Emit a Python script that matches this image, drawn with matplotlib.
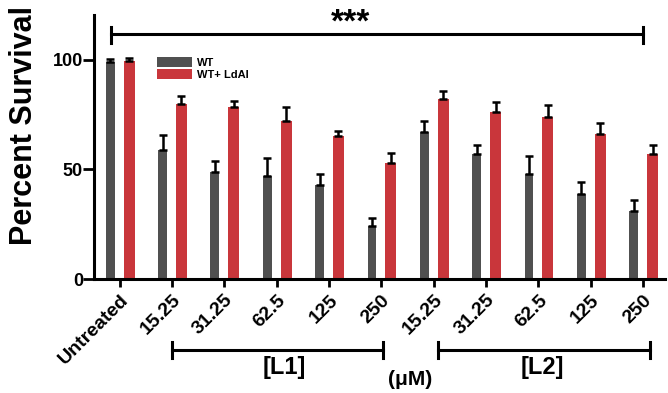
import numpy as np
import matplotlib
matplotlib.use("Agg")
import matplotlib.pyplot as plt
import matplotlib.transforms as mtransforms

plt.rcParams['font.family'] = ['Liberation Sans', 'DejaVu Sans']
plt.rcParams['font.weight'] = 'bold'

# data
categories = ['Untreated', '15.25', '31.25', '62.5', '125', '250',
              '15.25', '31.25', '62.5', '125', '250']
wt_mean = [99, 59, 49, 47, 43, 24, 67, 57, 48, 39, 31]
wt_err = [1.5, 6.5, 5, 8, 5, 4, 5, 4, 8, 5.5, 5]
ldai_mean = [99.5, 80, 78.7, 72, 65.3, 53, 82.3, 76.3, 74, 66.3, 57]
ldai_err = [1.2, 3.5, 2.7, 6.5, 2.3, 4.6, 3.7, 4.7, 5.6, 4.7, 4]

grey = '#505050'
red = '#c9363b'

fig = plt.figure(figsize=(6.68, 3.93), dpi=100)
ax = fig.add_axes([0.1407, 0.29, 0.855, 0.672])

x = np.arange(len(categories))
off = 0.18
ekw = dict(ecolor='black', elinewidth=1.8, capsize=3, capthick=1.8)
ax.bar(x - off, wt_mean, 0.17, color=grey, label='WT',
       yerr=[np.zeros(len(x)), wt_err], error_kw=ekw)
ax.bar(x + off, ldai_mean, 0.21, color=red, label='WT+ LdAI',
       yerr=[np.zeros(len(x)), ldai_err], error_kw=ekw)

ax.set_xlim(-0.49, 10.42)
ax.set_ylim(0, 120.5)
ax.set_yticks([0, 50, 100])
ax.set_xticks(x)
ax.set_xticklabels(categories, rotation=45, ha='right', rotation_mode='anchor',
                   fontsize=14, fontweight='bold')
for lab in ax.get_yticklabels():
    lab.set_fontsize(13)
    lab.set_fontweight('bold')
ax.tick_params(axis='y', length=8, width=2, pad=0)
ax.tick_params(axis='x', length=6, width=2, pad=3)
for s in ['top', 'right']:
    ax.spines[s].set_visible(False)
for s in ['left', 'bottom']:
    ax.spines[s].set_linewidth(2.2)

ax.set_ylabel('Percent Survival', fontsize=22, fontweight='bold')
ax.yaxis.set_label_coords(-0.097, 0.583)

leg = ax.legend(loc='upper left', bbox_to_anchor=(157 / 668, 1 - 57 / 393),
                bbox_transform=fig.transFigure, frameon=False,
                prop={'size': 8, 'weight': 'bold'}, handlelength=3.15,
                handleheight=1.0, labelspacing=0.12, handletextpad=0.45,
                borderpad=0, borderaxespad=0)

# significance bracket on top
ax.plot([-0.17, 10], [111.9, 111.9], color='black', lw=2.2, clip_on=False)
for xe in [-0.17, 10]:
    ax.plot([xe, xe], [107.9, 115.2], color='black', lw=2.2, clip_on=False)
ax.text(4.41, 109.8, '***', ha='center', va='bottom', fontsize=24, fontweight='bold')

# group brackets below x axis
tr = mtransforms.blended_transform_factory(ax.transData, ax.transAxes)
yb = -0.269
for x0, x1, name, xt in [(1, 5.04, '[L1]', 3.14), (6.08, 10.13, '[L2]', 8.08)]:
    ax.plot([x0, x1], [yb, yb], color='black', lw=2.2, transform=tr, clip_on=False)
    for xe in [x0, x1]:
        ax.plot([xe, xe], [yb - 0.03, yb + 0.03], color='black', lw=2.2,
                transform=tr, clip_on=False)
    ax.text(xt, -0.29, name, transform=tr, ha='center', va='top',
            fontsize=17, fontweight='bold')
ax.text(5.55, -0.345, '(\u03bcM)', transform=tr, ha='center', va='top',
        fontsize=15, fontweight='bold')

fig.savefig('out.png', dpi=100)
